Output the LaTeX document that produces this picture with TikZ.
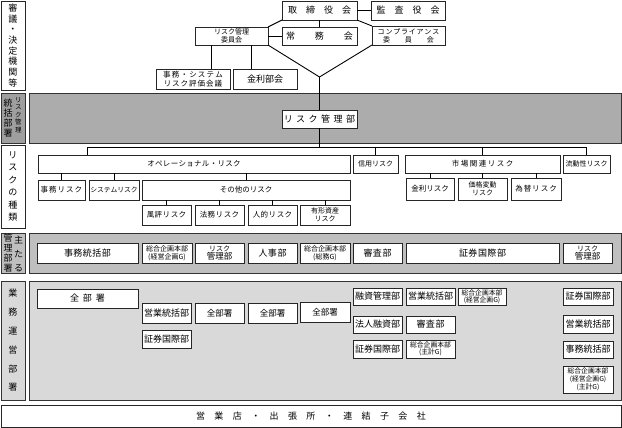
\documentclass[tikz,border=0pt]{standalone}
\usepackage{fontspec}
\setmainfont{Noto Sans CJK JP}
\usetikzlibrary{calc}
\newcommand\fs[2]{\fontsize{#1}{#2}\selectfont}
\makeatletter
\def\sp@loop#1{#1\@ifnextchar\relax{\@gobble}{\sp@gap\sp@loop}}
\newcommand\spaced[2]{\def\sp@gap{\hspace{#1}}\sp@loop#2\relax}
\makeatother
\newcommand\bxn[7][]{\node[bx,#1,minimum width={#5pt-#3pt},minimum height={#6pt-#4pt}] (#2) at ({(#3+#5)/2},{(#4+#6)/2}) {#7};}
\begin{document}
\begin{tikzpicture}[x=1pt,y=-1pt,
  bx/.style={draw=black!85,fill=white,line width=0.7pt,inner sep=0pt,outer sep=0pt,align=center,font=\fs{9}{10}},
  vt/.style={inner sep=0pt,align=center},
  ln/.style={line width=0.9pt,draw=black}]
\useasboundingbox (0,0) rectangle (622,428);
% ---------- bands and labels
\bxn[font=\fs{9}{10.7}]{L1}{1}{1}{25}{90}{審\\議\\・\\決\\定\\機\\関\\等}
\bxn[fill=gray!75,draw=black!80]{L2}{1}{93}{25}{143}{}
\node[vt,font=\fs{9}{10}] (L2a) at (8,118) {統\\括\\部\\署};
\node[vt,font=\fs{6.5}{7.5}] (L2b) at (18.5,115) {リ\\ス\\ク\\管\\理};
\bxn[fill=gray!65,draw=black!80]{B2}{29}{93}{621}{143}{}
\bxn[font=\fs{9}{12.4}]{L3}{1}{145}{25}{228}{リ\\ス\\ク\\の\\種\\類}
\bxn[fill=gray!50,draw=black!80]{L4}{1}{233}{25}{273}{}
\node[vt,font=\fs{9}{10}] (L4a) at (8,253) {管\\理\\部\\署};
\node[vt,font=\fs{9}{14}] (L4b) at (18.5,254) {主\\た\\る};
\bxn[fill=gray!50,draw=black!80]{B4}{29}{233}{621}{273}{}
\bxn[fill=gray!30,draw=black!80,font=\fs{9}{18.8}]{L5}{1}{281}{25}{400}{業\\務\\運\\営\\部\\署}
\bxn[fill=gray!30,draw=black!80]{B5}{29}{281}{621}{400}{}
\bxn{B6}{1}{405}{621}{427}{\spaced{9.4pt}{営業店・出張所・連結子会社}}
% ---------- top
\bxn{tori}{282}{1}{357}{20}{\spaced{9pt}{取締役会}}
\bxn{kansa}{371}{1}{445}{20}{\spaced{9pt}{監査役会}}
\bxn{joumu}{282}{27}{357}{45}{\spaced{20pt}{常務会}}
\bxn[font=\fs{7}{8}]{riskiin}{195}{27}{268}{45}{リスク管理\\委員会}
\bxn[font=\fs{7}{8}]{comp}{372}{26}{445}{45}{\spaced{0.8pt}{コンプライアンス}\\\spaced{15pt}{委員会}}
\bxn[font=\fs{7.5}{8.5}]{jimusys}{156}{69}{230}{89}{\spaced{1.2pt}{事務・システム}\\\spaced{1pt}{リスク評価会議}}
\bxn{kinri}{233}{69}{297}{89}{金利部会}
\bxn{rkb}{282}{110}{357}{128}{\spaced{3.5pt}{リスク管理部}}
% ---------- risk types
\bxn[font=\fs{7.5}{8.5}]{ope}{38}{155}{350}{173}{\spaced{0.3pt}{オペレーショナル・リスク}}
\bxn[font=\fs{7}{8}]{shinyo}{353}{155}{398}{173}{信用リスク}
\bxn[font=\fs{7.5}{8.5}]{shijo}{405}{155}{560}{173}{\spaced{1.5pt}{市場関連リスク}}
\bxn[font=\fs{7}{8}]{ryudo}{563}{155}{610}{173}{流動性リスク}
\bxn[font=\fs{7.5}{8.5}]{jimu}{38}{180}{85}{200}{\spaced{1pt}{事務リスク}}
\bxn[font=\fs{6.8}{8}]{sys}{89}{180}{139}{200}{システムリスク}
\bxn[font=\fs{7.5}{8.5}]{sonota}{142}{180}{350}{200}{その他のリスク}
\bxn[font=\fs{7.5}{8.5}]{kinrir}{406}{178}{454}{200}{金利リスク}
\bxn[font=\fs{7}{7.8}]{kakaku}{458}{178}{507}{200}{価格変動\\リスク}
\bxn[font=\fs{7.5}{8.5}]{kawase}{511}{178}{561}{200}{\spaced{1pt}{為替リスク}}
\bxn[font=\fs{7.5}{8.5}]{fuhyo}{142}{205}{191}{225}{\spaced{0.5pt}{風評リスク}}
\bxn[font=\fs{7.5}{8.5}]{homu}{195}{205}{244}{225}{\spaced{0.5pt}{法務リスク}}
\bxn[font=\fs{7.5}{8.5}]{jinteki}{248}{205}{297}{225}{\spaced{0.5pt}{人的リスク}}
\bxn[font=\fs{7}{7.8}]{yukei}{300}{205}{350}{225}{有形資産\\リスク}
% ---------- main management depts
\bxn{m1}{37}{243}{138}{263}{\spaced{0.5pt}{事務統括部}}
\bxn[font=\fs{7}{7.5}]{m2}{142}{243}{192}{263}{総合企画本部\\(経営企画G)}
\bxn[font=\fs{8.5}{8.5}]{m3}{195}{243}{244}{263}{{\fs{7}{8}リスク}\\管理部}
\bxn{m4}{248}{243}{297}{263}{\spaced{0.5pt}{人事部}}
\bxn[font=\fs{7}{7.5}]{m5}{300}{243}{350}{263}{総合企画本部\\(総務G)}
\bxn{m6}{353}{243}{402}{263}{\spaced{0.5pt}{審査部}}
\bxn{m7}{406}{243}{559}{263}{\spaced{0.5pt}{証券国際部}}
\bxn[font=\fs{8.5}{8.5}]{m8}{563}{243}{612}{263}{{\fs{7}{8}リスク}\\管理部}
% ---------- operating depts
\bxn{g1}{37}{289}{138}{308}{\spaced{4pt}{全部署}}
\bxn{g2}{142}{303}{191}{323}{営業統括部}
\bxn[font=\fs{8.5}{9}]{g3}{195}{303}{244}{323}{全部署}
\bxn[font=\fs{8.5}{9}]{g4}{248}{303}{297}{323}{全部署}
\bxn[font=\fs{8.5}{9}]{g5}{300}{302}{350}{322}{全部署}
\bxn{g6}{142}{330}{191}{348}{証券国際部}
\bxn{g7}{353}{288}{402}{305}{融資管理部}
\bxn{g8}{406}{288}{455}{305}{営業統括部}
\bxn[font=\fs{6.8}{7}]{g9}{458}{288}{506}{305}{総合企画本部\\(経営企画G)}
\bxn{g10}{353}{316}{402}{333}{法人融資部}
\bxn{g11}{406}{316}{455}{333}{\spaced{0.5pt}{審査部}}
\bxn{g12}{353}{340}{402}{358}{証券国際部}
\bxn[font=\fs{6.8}{7.5}]{g13}{406}{340}{455}{358}{総合企画本部\\(主計G)}
\bxn{g14}{563}{288}{613}{305}{証券国際部}
\bxn{g15}{563}{315}{613}{333}{営業統括部}
\bxn{g16}{563}{341}{613}{358}{事務統括部}
\bxn[font=\fs{6.8}{8}]{g17}{563}{366}{613}{393}{総合企画本部\\(経営企画G)\\(主計G)}
% ---------- connectors
\draw[ln] (tori.east) -- (kansa.west);
\draw[ln] (tori.south) -- (joumu.north);
\draw[ln] (tori.south west) -- (riskiin.north east);
\draw[ln] (tori.south east) -- (comp.north west);
\draw[ln] (riskiin.east) -- (joumu.west);
\coordinate (V) at (319.5,77);
\draw[ln] (riskiin.south east) -- (V) -- (comp.south west);
\draw[ln] (V) -- (rkb.north);
\draw[ln] ([xshift=-20pt]riskiin.south) -- ([xshift=-20pt]riskiin.south |- jimusys.north);
\draw[ln] ([xshift=20pt]riskiin.south) -- ([xshift=20pt]riskiin.south |- kinri.north);
\coordinate (bus) at (319.5,147);
\coordinate (busL) at (87,147);
\draw[ln] (rkb.south) -- (bus);
\draw[ln] (busL) -- (ryudo.north |- bus) -- (ryudo.north);
\draw[ln] (busL) -- (busL |- ope.north);
\draw[ln] (shinyo.north |- bus) -- (shinyo.north);
\draw[ln] (shijo.north |- bus) -- (shijo.north);
\foreach \c in {jimu,sys,sonota} \draw[ln] (\c.north) -- (\c.north |- ope.south);
\foreach \c in {fuhyo,homu,jinteki,yukei} \draw[ln] (\c.north) -- (\c.north |- sonota.south);
\foreach \c in {kinrir,kakaku,kawase} \draw[ln] (\c.north) -- (\c.north |- shijo.south);
\end{tikzpicture}
\end{document}
